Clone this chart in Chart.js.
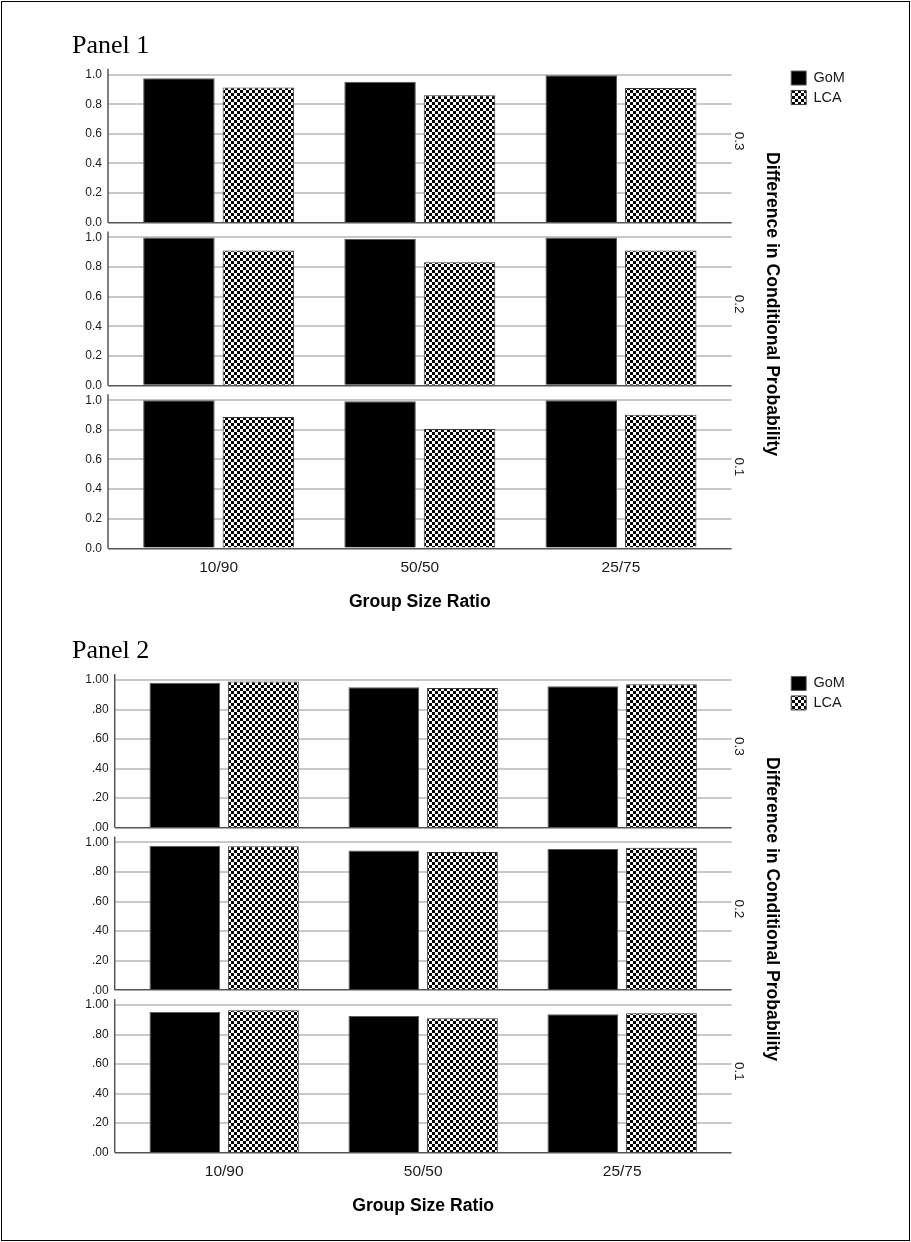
<!DOCTYPE html>
<html>
<head>
<meta charset="utf-8">
<script src="https://cdn.jsdelivr.net/npm/chart.js@4.4.1/dist/chart.umd.min.js"></script>
<style>
  html, body { margin: 0; padding: 0; background: #fff; }
  body { width: 911px; height: 1242px; position: relative; overflow: hidden; }
  .frame { position: absolute; left: 1px; top: 1px; width: 909px; height: 1240px;
           border: 1px solid #000; box-sizing: border-box; }
  canvas { position: absolute; left: 0; }
  .panel-title { position: absolute; left: 72px; font-family: 'Liberation Serif', 'Times New Roman', serif;
                 font-size: 26px; line-height: 26px; color: #000; white-space: nowrap; }
</style>
</head>
<body>
<div class="frame"></div>
<canvas id="panel1" width="911" height="625" style="top:0px"></canvas>
<canvas id="panel2" width="911" height="632" style="top:610px"></canvas>
<div class="panel-title" style="top:32px">Panel 1</div>
<div class="panel-title" style="top:637px">Panel 2</div>

<script>
// Categories, strata and tick labels
const groupRatios = ['10/90', '50/50', '25/75'];
const strata = ['0.3', '0.2', '0.1'];
const methods = ['GoM', 'LCA'];
const yTickValues = [0, 0.2, 0.4, 0.6, 0.8, 1.0];
const panel1TickLabels = ['0.0', '0.2', '0.4', '0.6', '0.8', '1.0'];
const panel2TickLabels = ['.00', '.20', '.40', '.60', '.80', '1.00'];

// Panel 1 values, one array per method and stratum (order: 10/90, 50/50, 25/75)
const p1GoM03 = [0.975, 0.951, 0.995];
const p1LCA03 = [0.913, 0.861, 0.910];
const p1GoM02 = [1.000, 0.989, 1.000];
const p1LCA02 = [0.912, 0.833, 0.912];
const p1GoM01 = [1.000, 0.993, 1.000];
const p1LCA01 = [0.887, 0.806, 0.903];

// Panel 2 values
const p2GoM03 = [0.982, 0.951, 0.957];
const p2LCA03 = [0.989, 0.946, 0.971];
const p2GoM02 = [0.978, 0.946, 0.955];
const p2LCA02 = [0.975, 0.935, 0.964];
const p2GoM01 = [0.953, 0.925, 0.937];
const p2LCA01 = [0.964, 0.910, 0.944];

const SANS = "'Liberation Sans', Arial, sans-serif";
const AXIS_TOP = 1.04;   // where each vertical axis line starts

Chart.defaults.color = '#1a1a1a';
Chart.defaults.font.family = SANS;

function checkerTile(cell) {
  const c = document.createElement('canvas');
  c.width = c.height = cell * 2;
  const g = c.getContext('2d');
  g.fillStyle = '#fff';
  g.fillRect(0, 0, cell * 2, cell * 2);
  g.fillStyle = '#000';
  g.fillRect(0, 0, cell, cell);
  g.fillRect(cell, cell, cell, cell);
  return c;
}

// Vertical axis line of each stacked sub-plot, broken between sub-plots
const axisLines = {
  id: 'axisLines',
  beforeDatasetsDraw(chart) {
    const { ctx, chartArea } = chart;
    ctx.save();
    ctx.strokeStyle = '#555';
    ctx.lineWidth = 1.5;
    strata.forEach((s, k) => {
      const sc = chart.scales['y' + k];
      ctx.beginPath();
      ctx.moveTo(chartArea.left, sc.getPixelForValue(AXIS_TOP));
      ctx.lineTo(chartArea.left, sc.getPixelForValue(0));
      ctx.stroke();
    });
    ctx.restore();
  }
};

function buildPanel(canvas, series, tickLabels, pad, xTick) {
  const ctx = canvas.getContext('2d');
  const lcaFill = ctx.createPattern(checkerTile(3), 'repeat');
  const look = {
    GoM: { backgroundColor: '#000', borderColor: '#5a5a5a' },
    LCA: { backgroundColor: lcaFill, borderColor: '#3a3a3a' }
  };

  const datasets = [];
  strata.forEach((s, k) => {
    methods.forEach(m => {
      datasets.push(Object.assign({
        label: m,
        stack: m,
        yAxisID: 'y' + k,
        data: series[m][k].map((v, i) => ({ x: i, y: v })),
        borderWidth: 1,
        borderSkipped: 'start',
        categoryPercentage: 0.79,
        barPercentage: 0.9
      }, look[m]));
    });
  });

  const scales = {
    x: {
      type: 'linear', min: -0.55, max: 2.55, offset: false,
      afterBuildTicks: sc => { sc.ticks = groupRatios.map((_, i) => ({ value: i })); },
      ticks: { callback: v => groupRatios[v], font: { size: 15.5 }, color: '#1a1a1a',
               padding: xTick.padding, maxRotation: 0, autoSkip: false },
      grid: { display: false, drawTicks: false, offset: false },
      border: { display: false },
      title: { display: true, text: 'Group Size Ratio', color: '#000',
               font: { size: 17.6, weight: 'bold' }, padding: { top: 0, bottom: xTick.titleBottom } },
      afterFit: sc => { sc.height = 70; }
    },
    rTitle: {
      type: 'linear', position: 'right', weight: 10,
      ticks: { display: false },
      grid: { display: false, drawTicks: false },
      border: { display: false },
      title: { display: true, text: 'Difference in Conditional Probability', color: '#000',
               font: { size: 17.6, weight: 'bold' }, padding: { top: 4, bottom: 5.6 } },
      afterFit: sc => { sc.width = 31; }
    }
  };

  strata.forEach((s, k) => {
    scales['y' + k] = {
      type: 'linear', position: 'left', stack: 'strata', stackWeight: 1, weight: 3 - k,
      min: 0, max: 1.1, stacked: false,
      afterBuildTicks: sc => { sc.ticks = yTickValues.map(v => ({ value: v })); },
      ticks: { callback: (v, i) => tickLabels[i], font: { size: 12 }, color: '#1a1a1a', padding: 6 },
      grid: {
        drawTicks: false,
        color: c => (c.tick && c.tick.value === 0) ? '#555' : '#c8c8c8',
        lineWidth: c => (c.tick && c.tick.value === 0) ? 1.5 : 2
      },
      border: { display: false },
      afterFit: sc => { sc.width = 30; }
    };
    scales['r' + k] = {
      type: 'linear', position: 'right', stack: 'strataLabels', stackWeight: 1, weight: k + 1,
      ticks: { display: false },
      grid: { display: false, drawTicks: false },
      border: { display: false },
      title: { display: true, text: s, color: '#1a1a1a', font: { size: 13.5 },
               padding: { top: 8, bottom: 0 } },
      afterFit: sc => { sc.width = 23.6; }
    };
  });

  return new Chart(ctx, {
    type: 'bar',
    data: { datasets },
    options: {
      responsive: false,
      animation: false,
      events: [],
      devicePixelRatio: 1,
      layout: { padding: pad },
      scales,
      plugins: {
        tooltip: { enabled: false },
        legend: {
          position: 'right', align: 'start', fullSize: false, maxWidth: 60,
          title: { display: true, text: '', padding: 0, font: { size: 5 } },
          labels: {
            filter: item => item.datasetIndex < 2,
            boxWidth: 15, boxHeight: 14, padding: 5,
            font: { size: 14.5 }, color: '#1a1a1a'
          }
        }
      }
    },
    plugins: [axisLines]
  });
}

buildPanel(document.getElementById('panel1'),
  { GoM: [p1GoM03, p1GoM02, p1GoM01], LCA: [p1LCA03, p1LCA02, p1LCA01] },
  panel1TickLabels,
  { top: 59.8, bottom: 6.7, left: 78, right: 64.8 },
  { padding: 10.2, titleBottom: 6 });

buildPanel(document.getElementById('panel2'),
  { GoM: [p2GoM03, p2GoM02, p2GoM01], LCA: [p2LCA03, p2LCA02, p2LCA01] },
  panel2TickLabels,
  { top: 55.2, bottom: 19.3, left: 84.7, right: 64.8 },
  { padding: 9.7, titleBottom: 5.5 });
</script>
</body>
</html>
